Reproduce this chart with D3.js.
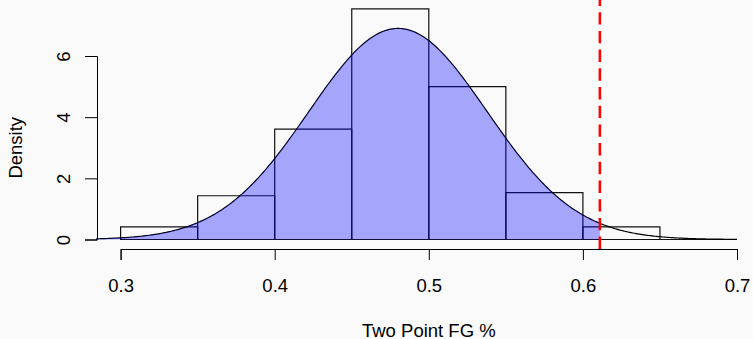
<!DOCTYPE html>
<html>
<head>
<meta charset="utf-8">
<script src="https://cdn.jsdelivr.net/npm/d3@7"></script>
</head>
<body style="margin:0;background:#fafafa">
<svg id="chart" width="753" height="339" style="display:block"></svg>
<script>
// Histogram bins (left edges) and their densities
const binStarts = [0.30, 0.35, 0.40, 0.45, 0.50, 0.55, 0.60, 0.65];
const binWidth = 0.05;
const densities = [0.41, 1.43, 3.61, 7.54, 5.00, 1.53, 0.41, 0];

// Fitted normal density
const fitMean = 0.48;
const fitSd = 0.0578;
const curveFrom = 0.284;
const curveTo = 0.70;

// Cut-off marker and shading limit
const cutoff = 0.611;

// Axis ticks
const xTicks = [0.3, 0.4, 0.5, 0.6, 0.7];
const xTickLabels = ["0.3", "0.4", "0.5", "0.6", "0.7"];
const yTicks = [0, 2, 4, 6];
const yTickLabels = ["0", "2", "4", "6"];

const xLabel = "Two Point FG %";
const yLabel = "Density";

const fontFamily = "Liberation Sans, Arial, Helvetica, sans-serif";
const lw = 1.2;

const svg = d3.select("#chart");

const x = d3.scaleLinear().domain([0.3, 0.7]).range([120.6, 737.0]);
const y = d3.scaleLinear().domain([0, 6]).range([239.5, 56]);

const plotTop = 0;
const plotBottom = 249;
const yAxisX = 97;

const dnorm = v => Math.exp(-0.5 * ((v - fitMean) / fitSd) ** 2) / (fitSd * Math.sqrt(2 * Math.PI));

// Axes: the end ticks sit on the first and last tick values, so the outer
// ticks of the domain path close the axis the same way the inner ticks do
const xAxis = d3.axisBottom(x)
  .tickValues(xTicks)
  .tickFormat((d, i) => xTickLabels[i])
  .tickSizeInner(11)
  .tickSizeOuter(11)
  .tickPadding(20);
const gx = svg.append("g")
  .attr("transform", `translate(0,${plotBottom})`)
  .call(xAxis);

const yAxis = d3.axisLeft(y)
  .tickValues(yTicks)
  .tickFormat((d, i) => yTickLabels[i])
  .tickSizeInner(12)
  .tickSizeOuter(12);
const gy = svg.append("g")
  .attr("transform", `translate(${yAxisX},0)`)
  .call(yAxis);

[gx, gy].forEach(g => {
  g.selectAll("path, line")
    .attr("stroke", "#000")
    .attr("stroke-width", 1);
});

gx.selectAll(".tick text")
  .attr("font-size", 18.5)
  .attr("font-family", fontFamily)
  .attr("fill", "#000")
  .attr("dy", null)
  .attr("y", 42.5);

gy.selectAll(".tick text")
  .attr("font-size", 18.5)
  .attr("font-family", fontFamily)
  .attr("fill", "#000")
  .attr("x", null).attr("dy", null)
  .attr("text-anchor", "middle")
  .attr("transform", "translate(-27,0) rotate(-90)");

// Histogram bars
const bars = binStarts.map((s, i) => ({ s, d: densities[i] }));
svg.append("g")
  .selectAll("path")
  .data(bars)
  .join("path")
  .attr("d", d => `M${x(d.s)},${y(0)}V${y(d.d)}H${x(d.s + binWidth)}V${y(0)}Z`)
  .attr("fill", "none")
  .attr("stroke", "#111")
  .attr("stroke-width", lw);

// Normal density curve
const curvePts = d3.range(0, 401).map(i => curveFrom + (curveTo - curveFrom) * i / 400);
const densityLine = d3.line().x(v => x(v)).y(v => y(dnorm(v)));
svg.append("path")
  .attr("d", densityLine(curvePts))
  .attr("fill", "none")
  .attr("stroke", "#000")
  .attr("stroke-width", lw);

// Shaded area under the curve up to the cut-off
const shadePts = d3.range(0, 301).map(i => curveFrom + (cutoff - curveFrom) * i / 300);
const area = d3.area().x(v => x(v)).y0(y(0)).y1(v => y(dnorm(v)));
svg.append("path")
  .attr("d", area(shadePts))
  .attr("fill", "rgba(0,0,255,0.34)")
  .attr("stroke", "none");

// Cut-off line
svg.append("line")
  .attr("x1", x(cutoff)).attr("x2", x(cutoff))
  .attr("y1", plotBottom).attr("y2", plotTop)
  .attr("stroke", "#ff0000")
  .attr("stroke-width", 2.5)
  .attr("stroke-dasharray", "12.4,6.3");

// Axis titles
svg.append("text")
  .attr("x", x(0.5))
  .attr("y", 336.5)
  .attr("text-anchor", "middle")
  .attr("font-size", 18.5)
  .attr("font-family", fontFamily)
  .text(xLabel);

svg.append("text")
  .attr("transform", `translate(21.5,${y(3)}) rotate(-90)`)
  .attr("text-anchor", "middle")
  .attr("font-size", 18.5)
  .attr("font-family", fontFamily)
  .text(yLabel);
</script>
</body>
</html>
